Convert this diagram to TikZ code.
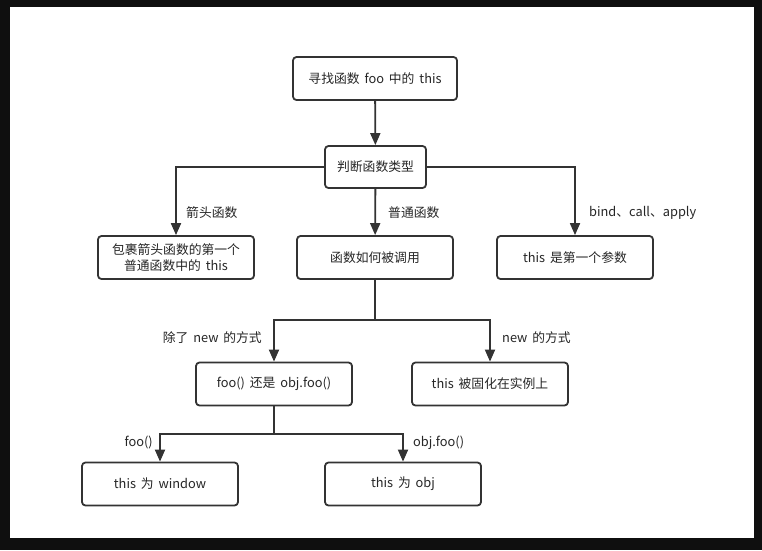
\documentclass[tikz,border=0pt]{standalone}
\usepackage{fontspec}
\setmainfont[WordSpace=1.7]{Noto Sans CJK SC}
\usetikzlibrary{arrows.meta}
\definecolor{ink}{HTML}{333333}
\definecolor{frame}{HTML}{0F0F0F}
\begin{document}
\begin{tikzpicture}[x=1pt,y=-1pt,
  box/.style={draw=ink,line width=1.8pt,rounded corners=3.5pt,fill=white,
    minimum width=156pt,minimum height=43pt,inner sep=2pt,align=center,
    font=\fontsize{12.8}{15.5}\selectfont,text=black!85},
  lbl/.style={font=\fontsize{12.8}{15}\selectfont,text=black!85,inner sep=0pt},
  wire/.style={draw=ink,line width=1.8pt},
  flow/.style={wire,-{Triangle[width=10pt,length=12pt]}}]
\useasboundingbox (0,0) rectangle (762,550);
% dark frame around the white sheet
\fill[frame] (0,0) rectangle (762,550);
\fill[white] (10,7) rectangle (754,538);

% boxes
\node[box,minimum width=164pt] (find) at (375,78.5) {寻找函数 foo 中的 this};
\node[box,minimum width=101pt,minimum height=42pt] (kind) at (375.5,167) {判断函数类型};
\node[box] (arrow) at (176,257.5) {包裹箭头函数的第一个\\普通函数中的 this};
\node[box] (call) at (375,257.5) {函数如何被调用};
\node[box] (bind) at (575,257.5) {this 是第一个参数};
\node[box] (plain) at (274,384) {foo() 还是 obj.foo()};
\node[box] (new) at (490,384) {this 被固化在实例上};
\node[box] (win) at (160,484) {this 为 window};
\node[box] (obj) at (403,484) {this 为 obj};

% junction points
\coordinate (j1) at (375,320);
\coordinate (j2) at (274,434);

% connectors
\draw[flow] (find) -- (kind);
\draw[flow] (kind.west) -| (arrow.north);
\draw[flow] (kind) -- (call);
\draw[flow] (kind.east) -| (bind.north);
\draw[wire] (call) -- (j1);
\draw[flow] (j1) -| (plain.north);
\draw[flow] (j1) -| (new.north);
\draw[wire] (plain) -- (j2);
\draw[flow] (j2) -| (win.north);
\draw[flow] (j2) -| (obj.north);

% connector labels
\node[lbl,anchor=west] (l1) at (186,213) {箭头函数};
\node[lbl,anchor=west] (l2) at (388,213) {普通函数};
\node[lbl,anchor=west] (l3) at (589,213) {bind、call、apply};
\node[lbl,anchor=east] (l4) at (262,338) {除了 new 的方式};
\node[lbl,anchor=west] (l5) at (502,338) {new 的方式};
\node[lbl,anchor=east] (l6) at (153,443) {foo()};
\node[lbl,anchor=west] (l7) at (413,443) {obj.foo()};
\end{tikzpicture}
\end{document}
